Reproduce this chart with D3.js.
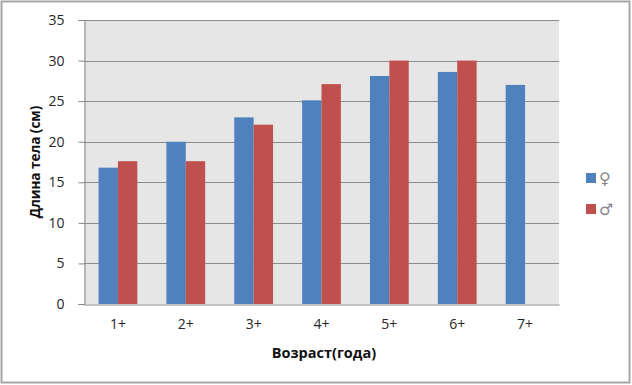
<!DOCTYPE html>
<html>
<head>
<meta charset="utf-8">
<script src="https://cdn.jsdelivr.net/npm/d3@7"></script>
<style>
  body { margin: 0; background: #fff; }
  svg text { font-family: 'Open Sans', sans-serif; }
</style>
</head>
<body>
<div id="chart"></div>
<script>
// data
const ages = ['1+', '2+', '3+', '4+', '5+', '6+', '7+'];
const females = [16.8, 20, 23, 25.1, 28.1, 28.6, 27];
const males = [17.6, 17.6, 22.1, 27.1, 30, 30, null];
const seriesNames = ['\u2640', '\u2642'];
const seriesColors = ['#4f81bd', '#c0504d'];
const yTicks = [0, 5, 10, 15, 20, 25, 30, 35];

const width = 632, height = 385;
const margin = { top: 20, right: 73, bottom: 81, left: 84 };
const plotW = width - margin.left - margin.right,
      plotH = height - margin.top - margin.bottom;

const svg = d3.select('#chart').append('svg')
  .attr('width', width)
  .attr('height', height);

// outer frame
svg.append('rect')
  .attr('x', 1.5).attr('y', 1.5)
  .attr('width', 628).attr('height', 381)
  .attr('fill', '#fff')
  .attr('stroke', '#a6a6a6')
  .attr('stroke-width', 2);

const g = svg.append('g')
  .attr('transform', 'translate(' + margin.left + ',' + margin.top + ')');

const x = d3.scaleBand()
  .domain(ages)
  .range([0, plotW])
  .paddingInner(0)
  .paddingOuter(0);

const y = d3.scaleLinear()
  .domain([0, 35])
  .range([plotH, 0]);

// bar width as in excel with a 150% gap
const barW = x.bandwidth() / 3.5;
const xSub = d3.scaleBand()
  .domain([0, 1])
  .range([x.bandwidth() / 2 - barW, x.bandwidth() / 2 + barW]);

// plot background
g.append('rect')
  .attr('width', plotW)
  .attr('height', plotH)
  .attr('fill', '#e6e6e6');

// gridlines
g.append('g')
  .selectAll('line')
  .data(yTicks.filter(d => d > 0))
  .enter().append('line')
    .attr('x1', 0).attr('x2', plotW)
    .attr('y1', d => Math.round(y(d)) + 0.5)
    .attr('y2', d => Math.round(y(d)) + 0.5)
    .attr('stroke', '#8c8c8c')
    .attr('stroke-width', 1);

// bars
const rows = ages.map((a, i) => ({ age: a, values: [females[i], males[i]] }));
g.append('g')
  .selectAll('g')
  .data(rows)
  .enter().append('g')
    .attr('transform', d => 'translate(' + x(d.age) + ',0)')
  .selectAll('rect')
  .data(d => d.values.map((v, k) => ({ k: k, v: v })).filter(d => d.v != null))
  .enter().append('rect')
    .attr('x', d => xSub(d.k))
    .attr('y', d => y(d.v))
    .attr('width', xSub.bandwidth())
    .attr('height', d => plotH - y(d.v))
    .attr('fill', d => seriesColors[d.k]);

// y axis
const yAxis = g.append('g')
  .attr('transform', 'translate(0.5,0)')
  .call(d3.axisLeft(y).tickValues(yTicks).tickSize(6).tickPadding(14));
yAxis.selectAll('line').attr('stroke', '#868686');
yAxis.select('.domain').attr('stroke', '#868686');
yAxis.selectAll('text')
  .attr('fill', '#262626')
  .style('font-size', '14px');

// x axis
const xAxis = g.append('g')
  .attr('transform', 'translate(0,' + (plotH + 0.5) + ')')
  .call(d3.axisBottom(x).tickSize(0).tickPadding(15));
xAxis.select('.domain').attr('stroke', '#868686');
xAxis.selectAll('text')
  .attr('fill', '#262626')
  .style('font-size', '14px');

// axis titles
svg.append('text')
  .attr('transform', 'translate(40,' + (margin.top + plotH / 2) + ') rotate(-90)')
  .attr('text-anchor', 'middle')
  .style('font-size', '13.5px')
  .style('font-weight', 'bold')
  .attr('fill', '#111')
  .text('Длина тела (см)');

svg.append('text')
  .attr('x', 324)
  .attr('y', 358)
  .attr('text-anchor', 'middle')
  .style('font-size', '14.5px')
  .style('font-weight', 'bold')
  .attr('fill', '#111')
  .text('Возраст(года)');

// legend
const legend = svg.append('g')
  .selectAll('g')
  .data(seriesNames)
  .enter().append('g')
    .attr('transform', (d, i) => 'translate(586,' + (173 + i * 31) + ')');
legend.append('rect')
  .attr('width', 10).attr('height', 10)
  .attr('fill', (d, i) => seriesColors[i]);
legend.append('text')
  .attr('x', 13)
  .attr('y', 5)
  .attr('dy', '0.35em')
  .style('font-size', '16px')
  .style('font-family', 'DejaVu Sans')
  .attr('fill', '#888')
  .text(d => d);
</script>
</body>
</html>
